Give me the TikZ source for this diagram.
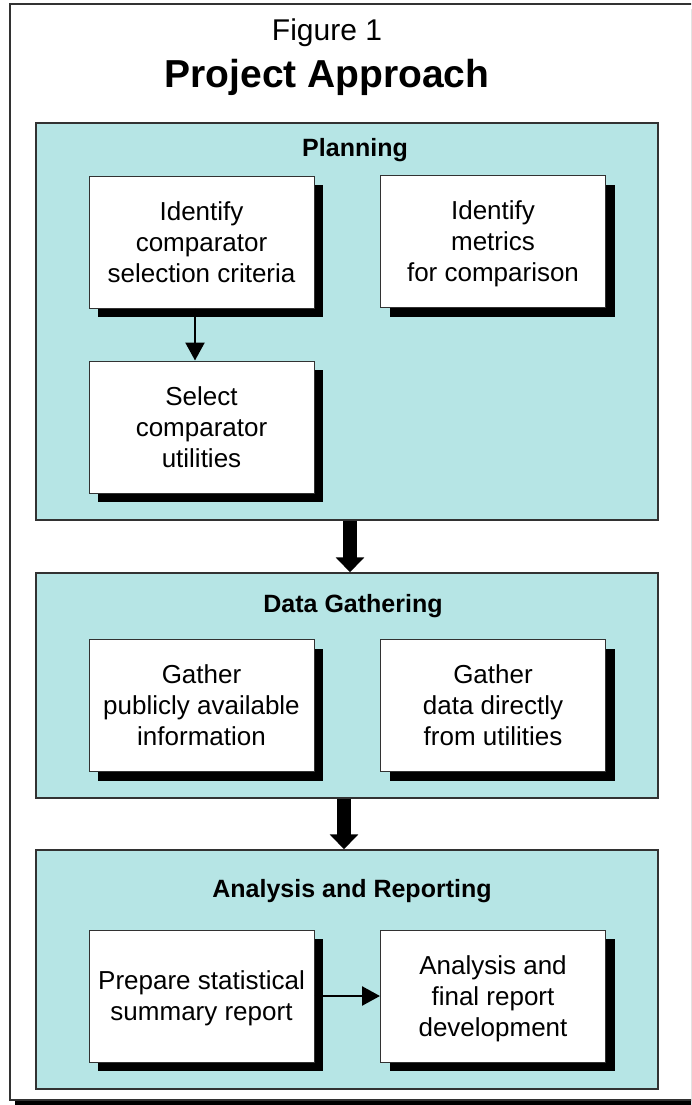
\documentclass[tikz,border=0pt]{standalone}
\usepackage{fontspec}
\setmainfont{Liberation Sans}
\usetikzlibrary{positioning, arrows.meta, shadows}

\definecolor{panelcyan}{RGB}{182,229,229}
\definecolor{edgegray}{RGB}{50,50,50}

% last line without its descender, so every box text sits alike
\newcommand{\flatline}[1]{\raisebox{0pt}[\height][0pt]{#1}}

\tikzset{
  panel/.style={draw=edgegray, line width=1.5pt, fill=panelcyan,
    minimum width=622pt, inner sep=0pt},
  paneltitle/.style={font=\bfseries\fontsize{25}{30}\selectfont, anchor=base},
  taskbox/.style={draw=edgegray, line width=1pt, fill=white,
    minimum width=225pt, minimum height=132pt, align=center, inner sep=0pt,
    font=\fontsize{26}{31}\selectfont,
    drop shadow={shadow xshift=9pt, shadow yshift=-9pt, opacity=1, fill=black}},
  flow/.style={line width=2.5pt, -{Triangle[width=19pt,length=18pt]}},
  bigflow/.style={line width=14pt, -{Triangle[width=28pt,length=15pt]}}
}

\begin{document}
\begin{tikzpicture}[x=1pt, y=-1pt]
\useasboundingbox (0,0) rectangle (691,1105);
\clip (0,0) rectangle (691,1105);

% outer frame with its shadow
\fill[black] (15,9) rectangle (700,1105);
\draw[edgegray, line width=1.5pt, fill=white] (10,4) rectangle (695,1100);

% heading
\node[font=\fontsize{30}{36}\selectfont, anchor=base] (fig) at (327,41) {Figure 1};
\node[font=\bfseries\fontsize{39}{46}\selectfont, anchor=base] (head) at (327,88) {Project Approach};

% planning
\node[panel, minimum height=397pt] (plan) at (347,321.5) {};
\node[paneltitle] (plantitle) at (355,157) {Planning};
\node[taskbox] (crit) at (201.5,242) {Identify\\comparator\\selection criteria};
\node[taskbox] (metric) at (493,241.5) {Identify\\metrics\\\flatline{for comparison}};
\node[taskbox] (select) at (201.5,427) {Select\\comparator\\utilities};
\draw[flow] ([xshift=-6.5pt]crit.south) -- ([xshift=-6.5pt]select.north);

% data gathering
\node[panel, minimum height=225pt] (gather) at (347,685.5) {};
\node[paneltitle] (gathertitle) at (353,612) {Data Gathering};
\node[taskbox] (public) at (201.5,705.5) {Gather\\publicly available\\information};
\node[taskbox] (direct) at (493,705.5) {Gather\\data directly\\from utilities};

% analysis and reporting
\node[panel, minimum height=239pt] (report) at (347,969.5) {};
\node[paneltitle] (reporttitle) at (352,897) {Analysis and Reporting};
\node[taskbox] (stats) at (201.5,996) {Prepare statistical\\\flatline{summary report}};
\node[taskbox] (final) at (493,996) {Analysis and\\final report\\\flatline{development}};
\draw[flow] (stats.east) -- (final.west);

% phase arrows
\draw[bigflow] ([xshift=3pt]plan.south) -- ([xshift=3pt]gather.north);
\draw[bigflow] ([xshift=-3pt]gather.south) -- ([xshift=-3pt]report.north);
\end{tikzpicture}
\end{document}
